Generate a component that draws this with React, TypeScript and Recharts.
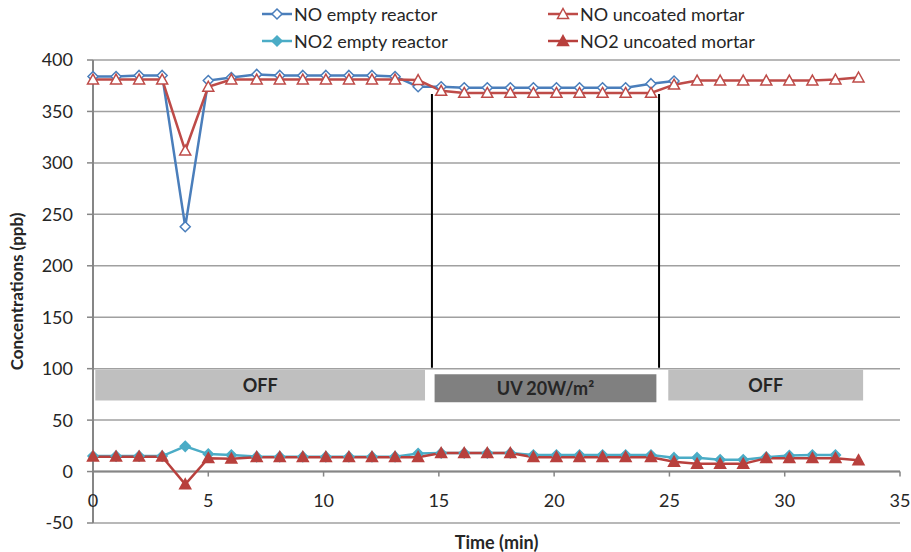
import React from "react";
import {
  LineChart,
  Line,
  XAxis,
  YAxis,
  CartesianGrid,
  ReferenceArea,
  ReferenceLine,
  Label,
} from "recharts";

// time of each reading (min)
const time = [
  0, 1, 2, 3, 4, 5, 6, 7.1, 8.1, 9.1, 10.1, 11.1, 12.1, 13.1, 14.1, 15.1, 16.1,
  17.1, 18.1, 19.1, 20.1, 21.1, 22.1, 23.1, 24.2, 25.2, 26.2, 27.2, 28.2, 29.2,
  30.2, 31.2, 32.2, 33.2,
];

const noEmpty = [
  384, 384, 385, 385, 238, 380, 383, 386, 385, 385, 385, 385, 385, 384, 374, 374,
  373, 373, 373, 373, 373, 373, 373, 373, 377, 379.5,
];
const noMortar = [
  381, 381, 381, 381, 312, 374, 381, 381, 381, 381, 381, 381, 381, 381, 380.5,
  370, 368, 368, 368, 368, 368, 368, 368, 368, 368, 376, 380, 380, 380, 380, 380,
  380, 381, 383,
];
const no2Empty = [
  15, 15, 15, 15, 24.5, 17, 16, 14.5, 14.5, 14.5, 14.5, 14.5, 14.5, 14.5, 17.5,
  18, 18, 18, 18, 16, 16, 16, 16, 16, 16, 13.5, 13.5, 11.5, 11.5, 14, 15.5, 16,
  16,
];
const no2Mortar = [
  14.5, 14.5, 14.5, 14.5, -12.5, 13, 12.5, 14, 14, 14, 14, 14, 14, 14, 14, 18, 18,
  18, 18, 14, 14, 14, 14, 14, 14, 9.5, 7.5, 7.5, 7.5, 13, 13, 13, 13, 11,
];

const xTicks = [0, 5, 10, 15, 20, 25, 30, 35];
const yTicks = [-50, 0, 50, 100, 150, 200, 250, 300, 350, 400];

// lamp phases: [start, end, label]
const phases: [number, number, string][] = [
  [0.1, 14.4, "OFF"],
  [14.75, 24.5, "UV 20W/m²"],
  [24.95, 33.4, "OFF"],
];
const lampSwitch = [14.7, 24.55];

const W = 911;
const H = 552;
const M = { top: 60, right: 11, left: 0, bottom: 0 };
const X_H = 29;
const Y_MIN = -50;
const Y_MAX = 400;
const plotH = H - M.top - M.bottom - X_H;
const zeroOffset = (plotH * (0 - Y_MIN)) / (Y_MAX - Y_MIN);

const FONT = "Lato, 'Open Sans', sans-serif";
const TXT = "#262626";
const AXIS = "#868686";

const BLUE = "#4a7ebb";
const RED = "#be4b48";
const CYAN = "#4bacc6";
const DARKRED = "#b8403d";

const rows = (vals: number[]) => vals.map((v, i) => ({ t: time[i], v }));

const diamond = (stroke: string, fill: string) => (p: any) => {
  const { cx, cy, index } = p;
  if (cx == null || cy == null) return <g key={index} />;
  const r = 5;
  return (
    <polygon
      key={index}
      points={`${cx},${cy - r} ${cx + r},${cy} ${cx},${cy + r} ${cx - r},${cy}`}
      fill={fill}
      stroke={stroke}
      strokeWidth={1.5}
    />
  );
};

const triangle = (stroke: string, fill: string) => (p: any) => {
  const { cx, cy, index } = p;
  if (cx == null || cy == null) return <g key={index} />;
  const r = 5.5;
  return (
    <polygon
      key={index}
      points={`${cx},${cy - r} ${cx + r},${cy + r * 0.8} ${cx - r},${cy + r * 0.8}`}
      fill={fill}
      stroke={stroke}
      strokeWidth={1.5}
    />
  );
};

const XTick = (p: any) => {
  const { x, y, payload } = p;
  const y0 = y - zeroOffset;
  return (
    <g>
      <line x1={x} x2={x} y1={y0} y2={y0 + 5} stroke={AXIS} strokeWidth={1.5} />
      <text
        x={x}
        y={y0 + 28}
        textAnchor="middle"
        dominantBaseline="central"
        fontSize={18}
        fill={TXT}
        fontFamily={FONT}
      >
        {payload.value}
      </text>
    </g>
  );
};

const legendItems = [
  { name: "NO empty reactor", color: BLUE, shape: "diamond", fill: "#fff" },
  { name: "NO uncoated mortar", color: RED, shape: "triangle", fill: "#fff" },
  { name: "NO2 empty reactor", color: CYAN, shape: "diamond", fill: CYAN },
  { name: "NO2 uncoated mortar", color: DARKRED, shape: "triangle", fill: DARKRED },
];

function LegendBox() {
  return (
    <div
      style={{
        position: "absolute",
        left: 261,
        top: 2,
        display: "grid",
        gridTemplateColumns: "286px auto",
        rowGap: 4,
        fontSize: 18,
        color: TXT,
        fontFamily: FONT,
      }}
    >
      {legendItems.map((it) => (
        <div key={it.name} style={{ display: "flex", alignItems: "center", height: 23 }}>
          <svg width={32} height={14} style={{ marginRight: 1 }}>
            <line x1={1} x2={31} y1={7} y2={7} stroke={it.color} strokeWidth={2.5} />
            {it.shape === "diamond"
              ? diamond(it.color, it.fill)({ cx: 16, cy: 7, index: 0 })
              : triangle(it.color, it.fill)({ cx: 16, cy: 7, index: 0 })}
          </svg>
          <span>{it.name}</span>
        </div>
      ))}
    </div>
  );
}

export default function App() {
  return (
    <div
      style={{
        position: "absolute",
        left: 0,
        top: 0,
        width: W,
        height: H,
        background: "#fff",
        fontFamily: FONT,
      }}
    >
      <LineChart width={W} height={H} margin={M}>
        <CartesianGrid vertical={false} stroke="#a0a0a0" strokeWidth={1.5} />
        <XAxis
          dataKey="t"
          type="number"
          domain={[0, 35]}
          ticks={xTicks}
          height={X_H}
          axisLine={false}
          tickLine={false}
          tickSize={0}
          tickMargin={0}
          tick={<XTick />}
          allowDuplicatedCategory={false}
        >
          <Label
            value="Time (min)"
            position="insideBottom"
            offset={3}
            style={{ fontSize: 18, fontWeight: 700, fill: TXT, fontFamily: FONT }}
          />
        </XAxis>
        <YAxis
          type="number"
          domain={[Y_MIN, Y_MAX]}
          ticks={yTicks}
          width={93}
          axisLine={{ stroke: AXIS, strokeWidth: 2 }}
          tickLine={{ stroke: AXIS, strokeWidth: 1.5 }}
          tickSize={6}
          tickMargin={14}
          tick={{ fontSize: 18, fill: TXT, fontFamily: FONT }}
        >
          <Label
            value="Concentrations (ppb)"
            angle={-90}
            position="insideLeft"
            offset={17}
            style={{ fontSize: 17, fontWeight: 700, fill: TXT, fontFamily: FONT, textAnchor: "middle" }}
          />
        </YAxis>
        <ReferenceLine y={0} stroke={AXIS} strokeWidth={2} />
        {phases.map(([a, b, name], i) => (
          <ReferenceArea
            key={i}
            x1={a}
            x2={b}
            y1={name === "OFF" ? 69 : 66}
            y2={name === "OFF" ? 99 : 96}
            fill={name === "OFF" ? "#bfbfbf" : "#808080"}
            fillOpacity={1}
            stroke={name === "OFF" ? "none" : "#fff"}
            strokeWidth={3}
            label={{
              value: name,
              position: "center",
              fontSize: 18,
              fontWeight: 700,
              fill: TXT,
              fontFamily: FONT,
            }}
          />
        ))}
        {lampSwitch.map((x, i) => (
          <ReferenceLine
            key={i}
            segment={[
              { x, y: 101 },
              { x, y: 367 },
            ]}
            stroke="#000"
            strokeWidth={2}
          />
        ))}
        <Line
          data={rows(noEmpty)}
          dataKey="v"
          name="NO empty reactor"
          stroke={BLUE}
          strokeWidth={2.5}
          dot={diamond(BLUE, "#fff")}
          isAnimationActive={false}
        />
        <Line
          data={rows(noMortar)}
          dataKey="v"
          name="NO uncoated mortar"
          stroke={RED}
          strokeWidth={2.5}
          dot={triangle(RED, "#fff")}
          isAnimationActive={false}
        />
        <Line
          data={rows(no2Empty)}
          dataKey="v"
          name="NO2 empty reactor"
          stroke={CYAN}
          strokeWidth={2.5}
          dot={diamond(CYAN, CYAN)}
          isAnimationActive={false}
        />
        <Line
          data={rows(no2Mortar)}
          dataKey="v"
          name="NO2 uncoated mortar"
          stroke={DARKRED}
          strokeWidth={2.5}
          dot={triangle(DARKRED, DARKRED)}
          isAnimationActive={false}
        />
      </LineChart>
      <LegendBox />
    </div>
  );
}
